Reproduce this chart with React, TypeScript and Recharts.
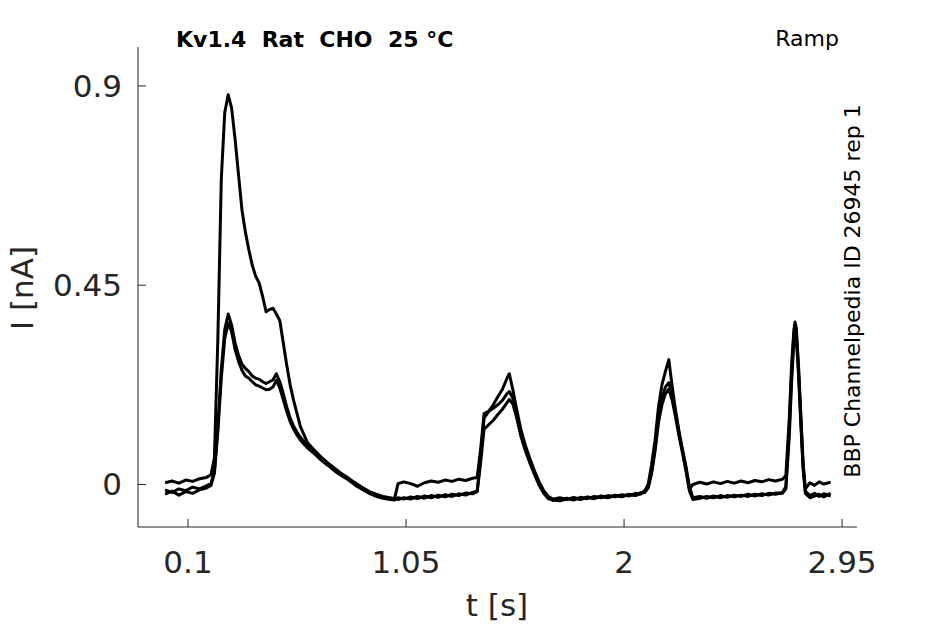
import { LineChart, Line, XAxis, YAxis } from "recharts";

// time base shared by the three sweeps (s)
const times = [
  0, 0.03, 0.06, 0.09, 0.12, 0.15, 0.18, 0.2, 0.215, 0.23, 0.245, 0.26, 0.275, 0.29, 0.305, 0.32, 0.335,
  0.35, 0.365, 0.38, 0.395, 0.41, 0.425, 0.44, 0.455, 0.47, 0.485, 0.5, 0.515, 0.53, 0.545, 0.56, 0.575,
  0.59, 0.62, 0.65, 0.68, 0.71, 0.74, 0.77, 0.8, 0.83, 0.86, 0.89, 0.92, 0.95, 0.98, 1.0, 1.015, 1.04,
  1.07, 1.1, 1.13, 1.16, 1.19, 1.22, 1.25, 1.28, 1.31, 1.34, 1.36, 1.375, 1.39, 1.41, 1.43, 1.45, 1.47,
  1.49, 1.5, 1.515, 1.53, 1.55, 1.57, 1.59, 1.61, 1.63, 1.65, 1.67, 1.69, 1.72, 1.75, 1.78, 1.81, 1.84,
  1.87, 1.9, 1.93, 1.96, 1.99, 2.02, 2.05, 2.07, 2.09, 2.105, 2.12, 2.135, 2.15, 2.165, 2.18, 2.195, 2.21,
  2.225, 2.24, 2.255, 2.27, 2.285, 2.3, 2.33, 2.36, 2.39, 2.42, 2.45, 2.48, 2.51, 2.54, 2.57, 2.6, 2.63,
  2.66, 2.69, 2.705, 2.72, 2.73, 2.74, 2.745, 2.75, 2.76, 2.77, 2.78, 2.79, 2.81, 2.83, 2.85, 2.87, 2.9,
];

// current (nA), sweep 1
const sweepA = [
  0.004, 0.008, 0.003, 0.01, 0.007, 0.013, 0.016, 0.022, 0.06, 0.33, 0.69, 0.84, 0.88, 0.85, 0.78, 0.7, 0.62,
  0.57, 0.53, 0.495, 0.47, 0.455, 0.425, 0.39, 0.395, 0.398, 0.385, 0.37, 0.32, 0.27, 0.225, 0.19, 0.16,
  0.13, 0.095, 0.078, 0.062, 0.048, 0.036, 0.024, 0.014, 0.002, -0.008, -0.017, -0.024, -0.029, -0.033, -0.031, -0.034, -0.03,
  -0.033, -0.027, -0.031, -0.025, -0.029, -0.023, -0.027, -0.021, -0.024, -0.018, -0.015, 0.06, 0.15, 0.165, 0.18, 0.198, 0.215,
  0.24, 0.25, 0.215, 0.175, 0.125, 0.088, 0.058, 0.03, 0.006, -0.014, -0.027, -0.033, -0.03, -0.034, -0.029, -0.033, -0.028,
  -0.031, -0.026, -0.029, -0.024, -0.027, -0.022, -0.024, -0.019, -0.016, -0.005, 0.03, 0.085, 0.15, 0.195, 0.22, 0.23, 0.2,
  0.16, 0.115, 0.075, 0.035, -0.01, 0.0, 0.005, 0.001, 0.006, 0.002, 0.007, 0.003, 0.008, 0.004, 0.009, 0.006, 0.011,
  0.008, 0.012, 0.02, 0.15, 0.27, 0.35, 0.367, 0.355, 0.27, 0.16, 0.05, -0.015, -0.025, -0.02, -0.027, -0.021, -0.026,
];

// sweep 2
const sweepB = [
  -0.012, -0.018, -0.01, -0.014, -0.006, -0.01, -0.003, 0.002, 0.03, 0.13, 0.26, 0.35, 0.385, 0.36, 0.32, 0.292, 0.272,
  0.262, 0.255, 0.245, 0.24, 0.238, 0.232, 0.228, 0.232, 0.236, 0.25, 0.232, 0.205, 0.175, 0.15, 0.132, 0.118,
  0.106, 0.088, 0.074, 0.06, 0.047, 0.034, 0.023, 0.012, 0.003, -0.007, -0.016, -0.022, -0.027, -0.03, -0.032, 0.002, 0.006,
  0.002, -0.004, 0.004, 0.008, 0.005, 0.01, 0.007, 0.012, 0.009, 0.014, 0.016, 0.08, 0.16, 0.165, 0.172, 0.18, 0.19,
  0.205, 0.21, 0.195, 0.165, 0.118, 0.082, 0.052, 0.026, 0.002, -0.017, -0.03, -0.036, -0.034, -0.031, -0.035, -0.029, -0.032,
  -0.027, -0.03, -0.025, -0.028, -0.023, -0.026, -0.02, -0.022, -0.014, 0.0, 0.045, 0.1, 0.175, 0.225, 0.255, 0.282, 0.22,
  0.165, 0.118, 0.078, 0.04, -0.005, -0.03, -0.027, -0.031, -0.026, -0.03, -0.025, -0.028, -0.024, -0.027, -0.022, -0.025, -0.02,
  -0.022, -0.018, -0.005, 0.13, 0.25, 0.34, 0.36, 0.35, 0.26, 0.15, 0.045, -0.01, 0.004, -0.002, 0.006, 0.001, 0.005,
];

// sweep 3
const sweepC = [
  -0.022, -0.015, -0.024, -0.016, -0.02, -0.012, -0.008, -0.002, 0.025, 0.12, 0.24, 0.33, 0.365, 0.345, 0.305, 0.278, 0.258,
  0.245, 0.24, 0.232, 0.225, 0.222, 0.218, 0.214, 0.215, 0.22, 0.235, 0.218, 0.192, 0.165, 0.142, 0.125, 0.112,
  0.1, 0.083, 0.07, 0.055, 0.043, 0.03, 0.02, 0.01, -0.002, -0.011, -0.02, -0.027, -0.031, -0.034, -0.035, -0.03, -0.033,
  -0.028, -0.032, -0.026, -0.03, -0.024, -0.028, -0.022, -0.025, -0.019, -0.021, -0.016, 0.05, 0.125, 0.135, 0.145, 0.158, 0.17,
  0.185, 0.192, 0.182, 0.155, 0.11, 0.076, 0.048, 0.022, -0.002, -0.02, -0.032, -0.034, -0.037, -0.033, -0.031, -0.034, -0.029,
  -0.032, -0.027, -0.03, -0.025, -0.028, -0.023, -0.025, -0.02, -0.018, -0.008, 0.025, 0.075, 0.14, 0.18, 0.205, 0.215, 0.19,
  0.15, 0.108, 0.07, 0.03, -0.015, -0.034, -0.031, -0.027, -0.03, -0.025, -0.029, -0.024, -0.027, -0.022, -0.026, -0.021, -0.024,
  -0.019, -0.02, -0.01, 0.11, 0.23, 0.325, 0.345, 0.335, 0.25, 0.14, 0.035, -0.02, -0.03, -0.026, -0.022, -0.028, -0.02,
];

const xTicks = [0.1, 1.05, 2, 2.95];
const yTicks = [0, 0.45, 0.9];

const data = times.map((t, i) => ({ t, a: sweepA[i], b: sweepB[i], c: sweepC[i] }));

const font = "'DejaVu Sans', sans-serif";
const ink = "#262626";

export default function App() {
  return (
    <div style={{ position: "absolute", left: 0, top: 0, width: 945, height: 624, background: "#fff" }}>
      <LineChart width={945} height={624} data={data} margin={{ top: 47, right: 88, bottom: 0, left: 0 }}>
        <XAxis
          dataKey="t"
          type="number"
          domain={[-0.118, 3.015]}
          allowDataOverflow
          ticks={xTicks}
          height={97}
          tickSize={-8}
          tickMargin={32}
          stroke={ink}
          tick={{ fill: ink, fontSize: 31, fontFamily: font }}
        />
        <YAxis
          type="number"
          domain={[-0.096, 0.988]}
          allowDataOverflow
          ticks={yTicks}
          width={138}
          tickSize={-8}
          tickMargin={24}
          stroke={ink}
          tick={{ fill: ink, fontSize: 31, fontFamily: font }}
        />
        {["a", "b", "c"].map((k) => (
          <Line
            key={k}
            type="linear"
            dataKey={k}
            stroke="#000"
            strokeWidth={3}
            strokeLinejoin="round"
            dot={false}
            isAnimationActive={false}
          />
        ))}
      </LineChart>
      <svg
        width={945}
        height={624}
        style={{ position: "absolute", left: 0, top: 0, pointerEvents: "none" }}
        fontFamily={font}
      >
        <text x={176} y={47} fontSize={22} fontWeight="bold" fill="#000">
          {"Kv1.4\u00a0\u00a0Rat\u00a0\u00a0CHO\u00a0\u00a025\u00a0°C"}
        </text>
        <text x={839} y={46} fontSize={22} textAnchor="end" fill="#000">
          Ramp
        </text>
        <text transform="translate(860,291) rotate(-90)" fontSize={22} textAnchor="middle" fill="#000">
          BBP Channelpedia ID 26945 rep 1
        </text>
        <text transform="translate(33,288) rotate(-90)" fontSize={31} textAnchor="middle" fill={ink}>
          I [nA]
        </text>
        <text x={497} y={616} fontSize={31} textAnchor="middle" fill={ink}>
          t [s]
        </text>
      </svg>
    </div>
  );
}
